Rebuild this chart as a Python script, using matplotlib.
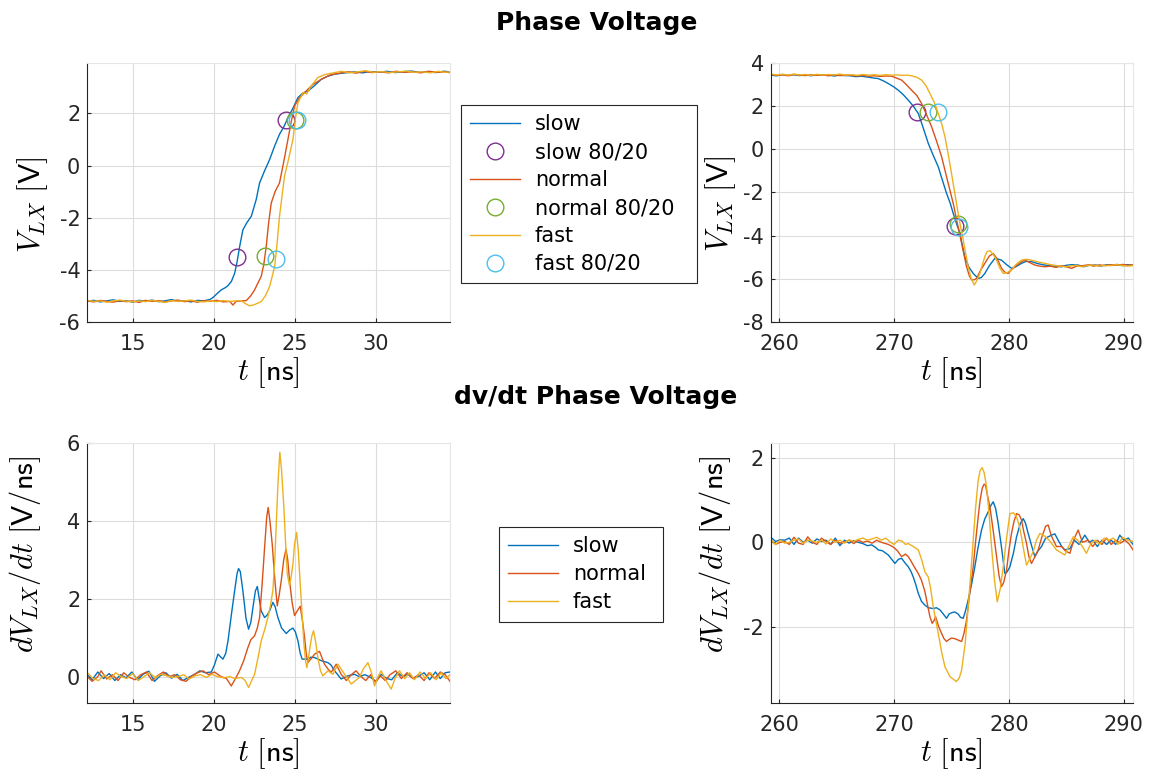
import numpy as np
import matplotlib
matplotlib.use("Agg")
import matplotlib.pyplot as plt

plt.rcParams["font.family"] = "DejaVu Sans"
plt.rcParams["mathtext.fontset"] = "cm"
plt.rcParams["axes.unicode_minus"] = False

# MATLAB default colours
c_slow, c_normal, c_fast = "#0072BD", "#D95319", "#EDB120"
c_slow_m, c_normal_m, c_fast_m = "#7E2F8E", "#77AC30", "#4DBEEE"

# ---- rising edge, phase voltage (t [ns], V) ----
rise_slow = [(12.2, -5.22), (12.6, -5.18), (13.0, -5.24), (13.4, -5.2), (13.8, -5.16), (14.2, -5.22),
             (14.6, -5.19), (15.0, -5.25), (15.4, -5.18), (15.8, -5.21), (16.2, -5.17), (16.6, -5.23),
             (17.0, -5.2), (17.4, -5.15), (17.8, -5.22), (18.2, -5.19), (18.6, -5.24), (19.0, -5.18),
             (19.4, -5.2), (19.8, -5.14), (20.0, -5.05), (20.25, -4.9), (20.47, -4.78), (20.7, -4.7),
             (20.88, -4.62), (21.1, -4.45), (21.3, -4.14), (21.45, -3.7), (21.61, -3.11), (21.81, -2.47),
             (22.05, -2.2), (22.33, -1.95), (22.63, -1.31), (22.84, -0.67), (23.15, -0.2), (23.46, 0.23),
             (23.77, 0.75), (24.07, 1.2), (24.35, 1.5), (24.59, 1.84), (24.9, 2.2), (25.21, 2.61),
             (25.5, 2.78), (25.82, 2.86), (26.2, 3.05), (26.65, 3.31), (27.0, 3.42), (27.47, 3.51),
             (28.0, 3.55), (28.7, 3.6), (29.2, 3.56), (29.7, 3.61), (30.2, 3.58), (30.7, 3.62),
             (31.2, 3.57), (31.7, 3.6), (32.2, 3.63), (32.7, 3.58), (33.2, 3.61), (33.7, 3.57),
             (34.2, 3.62), (34.6, 3.6)]
rise_normal = [(12.2, -5.2), (12.6, -5.24), (13.0, -5.18), (13.4, -5.22), (13.8, -5.25), (14.2, -5.19),
               (14.6, -5.23), (15.0, -5.2), (15.4, -5.26), (15.8, -5.18), (16.2, -5.22), (16.6, -5.19),
               (17.0, -5.24), (17.4, -5.2), (17.8, -5.17), (18.2, -5.23), (18.6, -5.2), (19.0, -5.25),
               (19.4, -5.19), (19.8, -5.22), (20.2, -5.18), (20.6, -5.24), (21.0, -5.22), (21.19, -5.36),
               (21.4, -5.22), (21.7, -5.2), (22.02, -5.19), (22.3, -5.0), (22.53, -4.78), (22.75, -4.5),
               (22.94, -4.26), (23.1, -3.8), (23.25, -3.11), (23.4, -2.2), (23.56, -1.44), (23.8, -1.0),
               (24.07, -0.67), (24.35, 0.2), (24.59, 1.0), (24.8, 1.7), (25.0, 2.29), (25.3, 2.6),
               (25.62, 2.8), (26.1, 3.1), (26.65, 3.31), (27.2, 3.48), (27.8, 3.55), (28.3, 3.6),
               (28.8, 3.55), (29.3, 3.62), (29.8, 3.57), (30.3, 3.6), (30.8, 3.56), (31.3, 3.62),
               (31.8, 3.58), (32.3, 3.6), (32.8, 3.56), (33.3, 3.62), (33.8, 3.58), (34.2, 3.6), (34.6, 3.57)]
rise_fast = [(12.2, -5.18), (12.6, -5.22), (13.0, -5.2), (13.4, -5.25), (13.8, -5.2), (14.2, -5.17),
             (14.6, -5.21), (15.0, -5.24), (15.4, -5.2), (15.8, -5.23), (16.2, -5.18), (16.6, -5.22),
             (17.0, -5.26), (17.4, -5.19), (17.8, -5.22), (18.2, -5.2), (18.6, -5.17), (19.0, -5.22),
             (19.4, -5.24), (19.8, -5.2), (20.2, -5.23), (20.6, -5.19), (21.0, -5.22), (21.35, -5.2),
             (21.71, -5.19), (21.95, -5.3), (22.22, -5.39), (22.5, -5.35), (22.94, -5.23), (23.2, -5.0),
             (23.46, -4.65), (23.77, -3.88), (23.92, -3.0), (24.07, -1.95), (24.38, -0.41), (24.65, 0.3),
             (24.9, 1.0), (25.05, 1.8), (25.21, 2.41), (25.52, 2.8), (25.75, 2.75), (26.03, 3.06),
             (26.44, 3.38), (26.9, 3.5), (27.47, 3.57), (27.9, 3.62), (28.4, 3.56), (28.9, 3.6),
             (29.4, 3.64), (29.9, 3.58), (30.4, 3.61), (30.9, 3.57), (31.4, 3.6), (31.9, 3.63),
             (32.4, 3.58), (32.9, 3.6), (33.4, 3.56), (33.9, 3.62), (34.3, 3.58), (34.6, 3.6)]

# 80/20 points on the rising edge
rise_mark_slow = [(21.46, -3.53), (24.49, 1.75)]
rise_mark_normal = [(23.19, -3.49), (25.04, 1.74)]
rise_mark_fast = [(23.83, -3.6), (25.14, 1.74)]

# ---- falling edge, phase voltage ----
fall_slow = [(259.3, 3.45), (259.8, 3.42), (260.3, 3.48), (260.8, 3.44), (261.3, 3.47), (261.8, 3.43),
             (262.3, 3.46), (262.8, 3.42), (263.3, 3.47), (263.8, 3.44), (264.3, 3.45), (264.8, 3.41),
             (265.3, 3.45), (265.7, 3.43), (266.2, 3.42), (266.7, 3.38), (267.2, 3.4), (267.7, 3.36),
             (268.2, 3.32), (268.64, 3.29), (269.1, 3.18), (269.51, 3.06), (270.0, 2.9), (270.38, 2.75),
             (270.8, 2.55), (271.25, 2.29), (271.7, 2.0), (272.12, 1.67), (272.55, 1.0), (272.99, 0.28),
             (273.4, -0.25), (273.86, -0.81), (274.2, -1.4), (274.58, -2.04), (274.9, -2.5), (275.16, -2.97),
             (275.45, -3.45), (275.74, -3.9), (275.95, -4.45), (276.17, -4.98), (276.5, -5.45), (276.9, -5.76),
             (277.33, -5.99), (277.6, -5.95), (277.91, -5.76), (278.3, -5.4), (278.78, -5.06), (279.1, -5.1),
             (279.36, -5.14), (279.8, -5.35), (280.23, -5.52), (280.6, -5.45), (281.1, -5.29), (281.5, -5.2),
             (281.97, -5.21), (282.5, -5.3), (283.13, -5.37), (283.6, -5.4), (284.1, -5.42), (284.58, -5.45),
             (285.0, -5.38), (285.5, -5.35), (286.03, -5.37), (286.5, -5.45), (287.0, -5.38), (287.48, -5.36),
             (288.0, -5.42), (288.5, -5.35), (288.93, -5.38), (289.4, -5.34), (289.9, -5.4), (290.3, -5.35),
             (290.8, -5.38)]
fall_normal = [(259.3, 3.48), (259.8, 3.44), (260.3, 3.46), (260.8, 3.42), (261.3, 3.48), (261.8, 3.45),
               (262.3, 3.43), (262.8, 3.47), (263.3, 3.44), (263.8, 3.46), (264.3, 3.42), (264.8, 3.47),
               (265.3, 3.43), (265.8, 3.45), (266.3, 3.44), (266.8, 3.41), (267.3, 3.44), (267.8, 3.4),
               (268.3, 3.42), (268.8, 3.39), (269.3, 3.41), (269.8, 3.4), (270.2, 3.32), (270.67, 3.22),
               (271.1, 3.0), (271.54, 2.75), (272.0, 2.5), (272.41, 2.13), (272.85, 1.6), (273.28, 1.05),
               (273.7, 0.4), (274.15, -0.34), (274.5, -1.1), (274.87, -1.89), (275.2, -2.6), (275.45, -3.28),
               (275.7, -3.85), (275.89, -4.36), (276.1, -4.9), (276.32, -5.45), (276.55, -5.85), (276.75, -6.06),
               (277.0, -6.05), (277.19, -5.99), (277.55, -5.6), (277.91, -5.29), (278.3, -4.95), (278.64, -4.83),
               (279.0, -5.1), (279.36, -5.52), (279.65, -5.7), (279.94, -5.76), (280.2, -5.6), (280.52, -5.45),
               (281.0, -5.25), (281.39, -5.14), (281.8, -5.25), (282.26, -5.37), (282.7, -5.42), (283.13, -5.45),
               (283.6, -5.42), (284.1, -5.48), (284.6, -5.4), (285.0, -5.45), (285.45, -5.52), (285.9, -5.42),
               (286.4, -5.4), (286.9, -5.36), (287.4, -5.42), (287.9, -5.36), (288.4, -5.4), (288.9, -5.35),
               (289.4, -5.38), (289.9, -5.34), (290.4, -5.38), (290.8, -5.36)]
fall_fast = [(259.3, 3.5), (259.8, 3.46), (260.3, 3.49), (260.8, 3.45), (261.3, 3.5), (261.8, 3.46),
             (262.3, 3.48), (262.8, 3.44), (263.3, 3.49), (263.8, 3.45), (264.3, 3.48), (264.8, 3.46),
             (265.3, 3.5), (265.8, 3.45), (266.3, 3.47), (266.8, 3.44), (267.3, 3.48), (267.8, 3.45),
             (268.3, 3.47), (268.8, 3.44), (269.3, 3.47), (269.8, 3.45), (270.3, 3.46), (270.8, 3.44),
             (271.2, 3.45), (271.54, 3.42), (272.0, 3.35), (272.41, 3.22), (272.8, 2.95), (273.13, 2.6),
             (273.5, 2.2), (273.86, 1.67), (274.15, 1.2), (274.44, 0.59), (274.75, -0.3), (275.01, -1.11),
             (275.3, -2.05), (275.59, -2.97), (275.8, -3.6), (276.03, -4.21), (276.25, -4.85), (276.46, -5.45),
             (276.7, -5.95), (276.99, -6.3), (277.2, -6.1), (277.48, -5.76), (277.7, -5.35), (277.91, -4.98),
             (278.1, -4.75), (278.35, -4.7), (278.6, -4.85), (278.93, -5.14), (279.2, -5.5), (279.51, -5.76),
             (279.85, -5.72), (280.23, -5.6), (280.6, -5.35), (281.1, -5.14), (281.5, -5.1), (281.97, -5.14),
             (282.5, -5.22), (283.13, -5.29), (283.6, -5.35), (284.2, -5.4), (284.87, -5.45), (285.3, -5.42),
             (285.8, -5.38), (286.3, -5.45), (286.8, -5.4), (287.3, -5.36), (287.8, -5.42), (288.3, -5.38),
             (288.8, -5.4), (289.3, -5.35), (289.8, -5.38), (290.3, -5.42), (290.8, -5.4)]

fall_mark_slow = [(271.97, 1.72), (275.31, -3.56)]
fall_mark_normal = [(272.93, 1.72), (275.54, -3.48)]
fall_mark_fast = [(273.86, 1.72), (275.65, -3.62)]

# ---- dv/dt, rising edge (V/ns) ----
dv_rise_slow = [(12.2, 0.05), (12.5, -0.08), (12.85, 0.12), (13.2, -0.05), (13.55, 0.08), (13.9, -0.1),
                (14.25, 0.05), (14.6, -0.03), (14.95, 0.12), (15.3, -0.08), (15.65, 0.06), (16.0, 0.14),
                (16.35, -0.12), (16.7, 0.02), (17.05, 0.1), (17.4, -0.04), (17.75, 0.06), (18.1, -0.1),
                (18.45, -0.02), (18.8, 0.05), (19.15, 0.15), (19.5, 0.1), (19.86, 0.12), (20.05, 0.3),
                (20.27, 0.58), (20.45, 0.5), (20.58, 0.45), (20.75, 0.6), (20.89, 0.92), (21.1, 1.6),
                (21.3, 2.21), (21.45, 2.65), (21.54, 2.78), (21.65, 2.7), (21.81, 2.2), (22.0, 1.5),
                (22.16, 1.22), (22.3, 1.4), (22.43, 1.78), (22.58, 2.2), (22.7, 2.32), (22.82, 2.0),
                (22.94, 1.69), (23.15, 1.52), (23.3, 1.58), (23.46, 1.69), (23.66, 1.91), (23.8, 1.8),
                (23.97, 1.52), (24.2, 1.25), (24.49, 1.11), (24.7, 1.2), (24.9, 1.25), (25.05, 1.15),
                (25.21, 0.92), (25.35, 0.6), (25.47, 0.45), (25.82, 0.45), (26.0, 0.5), (26.24, 0.49),
                (26.45, 0.45), (26.65, 0.41), (27.06, 0.36), (27.25, 0.3), (27.47, 0.15), (27.88, -0.06),
                (28.29, 0.02), (28.7, 0.06), (29.0, 0.0), (29.35, 0.05), (29.7, -0.02), (30.0, -0.12),
                (30.35, 0.06), (30.7, -0.05), (31.0, -0.08), (31.35, 0.1), (31.7, 0.0), (32.0, 0.06),
                (32.35, -0.05), (32.7, 0.02), (33.0, 0.1), (33.35, -0.08), (33.7, 0.12), (34.0, -0.05),
                (34.3, 0.1), (34.6, 0.12)]
dv_rise_normal = [(12.2, 0.0), (12.5, -0.12), (12.85, 0.0), (13.05, 0.15), (13.4, -0.06), (13.75, 0.05),
                  (14.1, -0.1), (14.45, 0.1), (14.8, -0.02), (15.15, -0.08), (15.5, 0.05), (15.85, 0.12),
                  (16.2, -0.1), (16.55, 0.03), (16.9, 0.12), (17.25, 0.0), (17.6, 0.05), (17.95, -0.08),
                  (18.3, -0.12), (18.65, 0.02), (19.0, 0.1), (19.35, 0.15), (19.7, 0.05), (20.05, 0.12),
                  (20.47, 0.0), (20.8, -0.05), (21.09, -0.24), (21.35, -0.05), (21.6, 0.15), (21.85, 0.4),
                  (22.12, 0.75), (22.3, 0.95), (22.53, 1.05), (22.7, 1.25), (22.84, 1.52), (23.0, 2.4),
                  (23.15, 3.32), (23.28, 4.1), (23.37, 4.35), (23.48, 4.0), (23.62, 3.41), (23.78, 2.5),
                  (23.93, 1.82), (24.05, 2.1), (24.18, 2.47), (24.33, 3.0), (24.47, 3.28), (24.58, 3.0),
                  (24.69, 2.47), (24.85, 1.9), (25.0, 1.57), (25.18, 1.7), (25.35, 1.81), (25.5, 1.4),
                  (25.62, 1.01), (25.72, 0.6), (25.82, 0.36), (26.0, 0.45), (26.24, 0.58), (26.54, 0.65),
                  (26.85, 0.32), (27.06, 0.2), (27.26, 0.11), (27.57, 0.32), (27.88, 0.06), (28.2, -0.1),
                  (28.5, 0.05), (28.8, 0.15), (29.1, 0.0), (29.4, -0.1), (29.7, 0.05), (30.0, -0.15),
                  (30.3, 0.02), (30.6, -0.1), (30.9, 0.05), (31.25, 0.15), (31.6, -0.05), (31.95, 0.1),
                  (32.3, -0.05), (32.65, 0.05), (33.0, -0.1), (33.3, 0.1), (33.65, -0.05), (34.0, 0.12),
                  (34.3, 0.05), (34.6, -0.12)]
dv_rise_fast = [(12.2, 0.1), (12.55, -0.05), (12.9, -0.1), (13.25, 0.05), (13.6, -0.08), (13.95, 0.1),
                (14.3, 0.0), (14.65, -0.05), (15.0, 0.08), (15.35, -0.1), (15.7, 0.0), (16.05, 0.1),
                (16.4, -0.03), (16.75, 0.06), (17.1, 0.02), (17.45, -0.02), (17.8, 0.0), (18.15, 0.05),
                (18.5, -0.06), (18.85, 0.02), (19.2, 0.05), (19.55, -0.02), (19.9, 0.06), (20.25, 0.0),
                (20.6, -0.03), (21.0, 0.0), (21.3, -0.05), (21.71, -0.02), (21.95, -0.1), (22.16, -0.28),
                (22.35, -0.1), (22.53, 0.06), (22.75, 0.5), (22.94, 0.92), (23.15, 1.2), (23.35, 1.52),
                (23.5, 1.8), (23.66, 2.21), (23.78, 3.0), (23.87, 3.92), (23.98, 5.0), (24.09, 5.77),
                (24.2, 5.3), (24.34, 4.35), (24.45, 3.4), (24.55, 2.64), (24.69, 2.34), (24.8, 2.6),
                (24.9, 2.9), (25.0, 3.4), (25.12, 3.71), (25.22, 3.3), (25.35, 2.38), (25.48, 1.5),
                (25.58, 0.84), (25.68, 0.4), (25.76, 0.23), (25.85, 0.45), (25.95, 0.75), (26.07, 1.05),
                (26.17, 1.18), (26.3, 0.9), (26.44, 0.49), (26.6, 0.15), (26.75, 0.02), (27.06, 0.15),
                (27.37, 0.06), (27.68, 0.32), (28.09, 0.06), (28.5, -0.19), (29.0, -0.02), (29.25, 0.2),
                (29.53, 0.36), (29.75, 0.1), (29.94, -0.24), (30.15, 0.0), (30.35, 0.15), (30.65, -0.1),
                (30.97, -0.32), (31.2, -0.05), (31.48, 0.15), (31.8, -0.05), (32.1, 0.1), (32.4, -0.08),
                (32.75, 0.12), (33.1, -0.05), (33.4, 0.1), (33.75, -0.08), (34.05, 0.1), (34.35, -0.05),
                (34.6, 0.05)]

# ---- dv/dt, falling edge ----
dv_fall_slow = [(259.3, 0.12), (259.7, 0.02), (260.1, 0.06), (260.5, 0.05), (260.9, 0.1), (261.3, -0.05),
                (261.7, 0.1), (262.1, 0.0), (262.5, 0.05), (262.9, -0.02), (263.3, 0.08), (263.7, 0.02),
                (264.1, 0.05), (264.5, -0.05), (264.9, 0.1), (265.3, -0.08), (265.7, 0.05), (266.1, -0.02),
                (266.5, 0.04), (266.9, 0.0), (267.3, -0.03), (267.7, -0.08), (268.06, -0.06), (268.4, -0.12),
                (268.64, -0.18), (269.0, -0.2), (269.51, -0.3), (269.8, -0.4), (270.09, -0.5), (270.4, -0.4),
                (270.67, -0.38), (271.0, -0.5), (271.25, -0.58), (271.5, -0.7), (271.68, -0.82), (271.9, -1.0),
                (272.12, -1.21), (272.4, -1.4), (272.7, -1.49), (273.0, -1.55), (273.42, -1.57), (273.7, -1.55),
                (274.0, -1.6), (274.3, -1.7), (274.58, -1.8), (274.8, -1.7), (275.01, -1.67), (275.3, -1.65),
                (275.59, -1.7), (275.8, -1.78), (276.03, -1.8), (276.2, -1.65), (276.46, -1.37), (276.75, -1.0),
                (277.04, -0.58), (277.3, -0.15), (277.62, 0.29), (277.9, 0.55), (278.2, 0.72), (278.45, 0.88),
                (278.64, 0.96), (278.85, 0.8), (279.07, 0.45), (279.35, -0.1), (279.65, -0.74), (279.85, -0.7),
                (280.09, -0.58), (280.4, -0.25), (280.67, 0.13), (281.0, 0.45), (281.25, 0.56), (281.45, 0.45),
                (281.68, 0.21), (282.0, -0.1), (282.26, -0.34), (282.55, -0.2), (282.84, -0.1), (283.2, 0.1),
                (283.71, 0.17), (284.0, 0.2), (284.29, 0.05), (284.6, -0.1), (284.87, -0.18), (285.31, -0.15),
                (285.7, 0.05), (286.1, -0.05), (286.61, 0.17), (287.0, 0.0), (287.3, 0.05), (287.7, -0.1),
                (288.1, 0.05), (288.5, -0.05), (288.9, 0.05), (289.3, -0.05), (289.65, 0.17), (290.0, 0.05),
                (290.4, 0.1), (290.8, -0.05)]
dv_fall_normal = [(259.3, 0.05), (259.7, -0.05), (260.1, 0.0), (260.5, 0.02), (260.9, -0.05), (261.3, 0.12),
                  (261.7, -0.02), (262.1, -0.05), (262.5, 0.13), (262.9, 0.0), (263.3, -0.05), (263.7, 0.1),
                  (264.1, 0.02), (264.5, -0.05), (264.9, 0.05), (265.3, -0.02), (265.7, 0.0), (266.1, 0.05),
                  (266.5, -0.03), (266.9, 0.05), (267.3, 0.0), (267.7, 0.03), (268.1, -0.02), (268.5, 0.05),
                  (268.9, 0.0), (269.51, -0.05), (269.94, -0.11), (270.3, -0.2), (270.67, -0.34), (271.0, -0.28),
                  (271.25, -0.34), (271.5, -0.45), (271.68, -0.54), (272.12, -0.74), (272.4, -0.9), (272.7, -1.17),
                  (272.9, -1.45), (273.13, -1.76), (273.33, -1.92), (273.5, -1.85), (273.62, -1.76), (273.9, -2.0),
                  (274.15, -2.16), (274.35, -2.28), (274.58, -2.35), (274.8, -2.3), (275.01, -2.27), (275.25, -2.28),
                  (275.45, -2.3), (275.7, -2.33), (275.89, -2.35), (276.1, -2.15), (276.32, -1.84), (276.6, -1.2),
                  (276.9, -0.58), (277.1, 0.0), (277.33, 0.6), (277.5, 1.0), (277.68, 1.28), (277.85, 1.38),
                  (277.97, 1.35), (278.15, 1.1), (278.35, 0.84), (278.65, 0.25), (278.93, -0.34), (279.15, -0.8),
                  (279.36, -1.05), (279.55, -0.95), (279.8, -0.66), (280.0, -0.2), (280.23, 0.21), (280.45, 0.5),
                  (280.67, 0.68), (280.9, 0.65), (281.1, 0.53), (281.3, 0.25), (281.54, -0.03), (281.75, -0.35),
                  (281.97, -0.5), (282.25, -0.35), (282.55, -0.18), (282.9, 0.15), (283.2, 0.38), (283.42, 0.41),
                  (283.7, 0.15), (284.14, -0.1), (284.6, -0.1), (284.9, -0.2), (285.31, -0.26), (285.7, 0.1),
                  (286.03, 0.29), (286.4, 0.0), (286.9, 0.05), (287.3, -0.1), (287.7, 0.05), (288.1, -0.05),
                  (288.5, 0.1), (288.9, -0.05), (289.3, 0.05), (289.7, -0.02), (290.1, 0.05), (290.5, -0.05),
                  (290.8, -0.18)]
dv_fall_fast = [(259.3, 0.05), (259.7, -0.05), (260.1, 0.05), (260.5, -0.02), (260.9, 0.0), (261.3, 0.05),
                (261.7, 0.08), (262.1, -0.02), (262.5, 0.05), (262.9, 0.03), (263.3, 0.0), (263.7, 0.05),
                (264.1, -0.04), (264.5, 0.08), (264.9, 0.0), (265.3, 0.05), (265.7, -0.02), (266.1, 0.06),
                (266.5, 0.02), (266.9, 0.07), (267.3, 0.1), (267.7, 0.05), (268.1, 0.08), (268.5, 0.12),
                (268.9, 0.05), (269.3, 0.1), (269.7, 0.0), (270.0, -0.05), (270.38, 0.05), (270.7, 0.03),
                (271.0, -0.05), (271.25, -0.03), (271.68, -0.1), (272.12, -0.18), (272.4, -0.4), (272.7, -0.7),
                (272.99, -0.82), (273.2, -1.1), (273.42, -1.53), (273.86, -2.16), (274.15, -2.6), (274.44, -2.95),
                (274.87, -3.18), (275.2, -3.25), (275.45, -3.3), (275.7, -3.2), (275.89, -3.03), (276.2, -2.4),
                (276.46, -1.53), (276.7, -0.7), (276.9, 0.05), (277.1, 0.8), (277.33, 1.47), (277.5, 1.7),
                (277.68, 1.77), (277.85, 1.65), (278.06, 1.32), (278.3, 0.6), (278.49, -0.1), (278.75, -0.9),
                (278.99, -1.41), (279.25, -1.1), (279.51, -0.58), (279.8, 0.1), (280.09, 0.68), (280.4, 0.7),
                (280.67, 0.6), (280.9, 0.4), (281.1, 0.13), (281.3, -0.2), (281.54, -0.54), (281.8, -0.4),
                (282.12, -0.22), (282.4, 0.05), (282.7, 0.21), (283.1, 0.15), (283.5, 0.05), (284.14, -0.18),
                (284.87, -0.3), (285.2, -0.1), (285.6, 0.13), (286.0, 0.05), (286.4, -0.1), (286.75, -0.26),
                (287.1, -0.05), (287.5, 0.05), (287.9, -0.05), (288.3, 0.1), (288.7, 0.05), (289.1, 0.1),
                (289.5, -0.05), (289.9, 0.12), (290.3, 0.05), (290.8, 0.02)]

names = ["slow", "normal", "fast"]
line_cols = [c_slow, c_normal, c_fast]
mark_cols = [c_slow_m, c_normal_m, c_fast_m]

W, H = 1156, 775
fig = plt.figure(figsize=(W / 100, H / 100), dpi=100)


def px_axes(l, t, r, b):
    return fig.add_axes([l / W, 1 - b / H, (r - l) / W, (b - t) / H])


def style(ax):
    ax.grid(True, color="#dcdcdc", lw=0.8)
    ax.set_axisbelow(True)
    for s in ["left", "bottom"]:
        ax.spines[s].set_color("#262626")
        ax.spines[s].set_linewidth(0.8)
    for s in ["top", "right"]:
        ax.spines[s].set_color("#e6e6e6")
        ax.spines[s].set_linewidth(0.8)
    ax.tick_params(direction="in", length=3, width=0.8, colors="#262626", labelsize=15)
    ax.tick_params(axis="x", pad=9)
    ax.tick_params(axis="y", pad=5)


ax_tl = px_axes(87.3, 62.7, 450, 321.7)
ax_tr = px_axes(770.7, 63.3, 1133, 321.7)
ax_bl = px_axes(87.3, 443.3, 450, 702.7)
ax_br = px_axes(770.7, 442.7, 1133, 702.7)

# voltage plots
for ax, curves, marks in [(ax_tl, [rise_slow, rise_normal, rise_fast],
                           [rise_mark_slow, rise_mark_normal, rise_mark_fast]),
                          (ax_tr, [fall_slow, fall_normal, fall_fast],
                           [fall_mark_slow, fall_mark_normal, fall_mark_fast])]:
    for nm, cur, mk, lc, mc in zip(names, curves, marks, line_cols, mark_cols):
        d = np.array(cur)
        ax.plot(d[:, 0], d[:, 1], color=lc, lw=1.0, label=nm)
        m = np.array(mk)
        ax.plot(m[:, 0], m[:, 1], "o", ls="none", mfc="none", mec=mc, ms=12, mew=1.0,
                label=nm + " 80/20")

# dv/dt plots
for ax, curves in [(ax_bl, [dv_rise_slow, dv_rise_normal, dv_rise_fast]),
                   (ax_br, [dv_fall_slow, dv_fall_normal, dv_fall_fast])]:
    for nm, cur, lc in zip(names, curves, line_cols):
        d = np.array(cur)
        ax.plot(d[:, 0], d[:, 1], color=lc, lw=1.0, label=nm)

for ax in [ax_tl, ax_tr, ax_bl, ax_br]:
    style(ax)
    ax.set_xlabel(r"$t\ [\mathsf{ns}]$", fontsize=22, labelpad=1)

ax_tl.set_xlim(12.2, 34.6)
ax_tl.set_ylim(-6, 3.95)
ax_tl.set_xticks([15, 20, 25, 30])
ax_tl.set_yticks([-6, -4, -2, 0, 2])

ax_tr.set_xlim(259.28, 290.8)
ax_tr.set_ylim(-8, 4)
ax_tr.set_xticks([260, 270, 280, 290])
ax_tr.set_yticks([-8, -6, -4, -2, 0, 2, 4])

ax_bl.set_xlim(12.2, 34.6)
ax_bl.set_ylim(-0.67, 6)
ax_bl.set_xticks([15, 20, 25, 30])
ax_bl.set_yticks([0, 2, 4, 6])

ax_br.set_xlim(259.28, 290.8)
ax_br.set_ylim(-3.8, 2.36)
ax_br.set_xticks([260, 270, 280, 290])
ax_br.set_yticks([-2, 0, 2])

v_label = r"$V_{LX}\ [\mathsf{V}]$"
dv_label = r"$dV_{LX}/dt\ [\mathsf{V/ns}]$"
ax_tl.set_ylabel(v_label, fontsize=22)
ax_tr.set_ylabel(v_label, fontsize=22)
ax_bl.set_ylabel(dv_label, fontsize=22)
ax_br.set_ylabel(dv_label, fontsize=22)
ax_tl.yaxis.set_label_coords(-0.103, 0.4525)
ax_tr.yaxis.set_label_coords(-0.089, 0.4555)
ax_bl.yaxis.set_label_coords(-0.121, 0.573)
ax_br.yaxis.set_label_coords(-0.103, 0.572)

fig.text(597 / W, 1 - 23 / H, "Phase Voltage", ha="center", va="center",
         fontsize=18, fontweight="bold")
fig.text(596 / W, 1 - 397 / H, "dv/dt Phase Voltage", ha="center", va="center",
         fontsize=18, fontweight="bold")

leg_kw = dict(loc="upper left", mode="expand", fontsize=15, frameon=True, fancybox=False,
              edgecolor="#262626", framealpha=1, borderaxespad=0, handlelength=2.4,
              handletextpad=0.7, labelspacing=0.38, borderpad=0.45)
h, l = ax_tl.get_legend_handles_labels()
leg1 = fig.legend(h, l, bbox_to_anchor=(461 / W, 1 - 105 / H - 0.001, 236 / W, 0.001), **leg_kw)
leg1.get_frame().set_linewidth(0.8)
h, l = ax_bl.get_legend_handles_labels()
leg2 = fig.legend(h, l, bbox_to_anchor=(499 / W, 1 - 527 / H - 0.001, 164 / W, 0.001), **leg_kw)
leg2.get_frame().set_linewidth(0.8)

fig.savefig("out.png", dpi=100)
